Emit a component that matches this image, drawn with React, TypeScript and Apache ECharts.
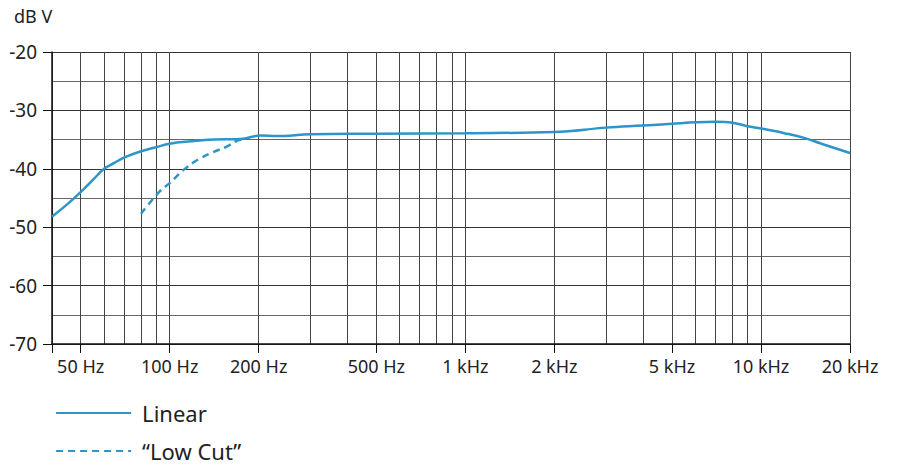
import React, { useEffect, useRef } from "react";
import * as echarts from "echarts";

const gridFreqs = [
  40, 50, 60, 70, 80, 90, 100, 200, 300, 400, 500, 600, 700, 800, 900, 1000,
  2000, 3000, 4000, 5000, 6000, 7000, 8000, 9000, 10000, 20000,
];
const tickFreqs = [40, 50, 100, 200, 500, 1000, 2000, 5000, 10000, 20000];
const labelFreqs = [50, 100, 200, 500, 1000, 2000, 5000, 10000, 20000];

const linearFreq = [
  40, 45, 50, 55, 60, 65, 70, 80, 90, 100, 118, 141, 174, 203, 230, 300, 500, 1000,
  2000, 3000, 4000, 5000, 6000, 7000, 8000, 9000, 10000, 12000, 14000, 16000, 20000,
];
const linearDb = [
  -48.2, -46.1, -44.0, -41.9, -40.0, -39.0, -38.1, -37.0, -36.3, -35.7, -35.3, -35.0,
  -34.9, -34.3, -34.4, -34.1, -34.0, -33.9, -33.7, -32.95, -32.6, -32.3, -32.05,
  -31.95, -32.1, -32.7, -33.1, -33.9, -34.7, -35.7, -37.3,
];

const lowCutFreq = [80, 92, 99.5, 112, 124, 141, 156, 169, 180];
const lowCutDb = [-47.7, -44.0, -42.55, -40.1, -38.5, -37.1, -36.2, -35.2, -34.9];

const LINE_COLOR = "#2d95c9";
const FONT = "'Noto Sans', 'Open Sans', sans-serif";

function fmtFreq(v: number): string {
  return v >= 1000 ? `${v / 1000} kHz` : `${v} Hz`;
}

export default function App() {
  const ref = useRef<HTMLDivElement>(null);
  useEffect(() => {
    if (!ref.current) return;
    const chart = echarts.init(ref.current, undefined, { renderer: "svg" });
    chart.setOption({
      animation: false,
      backgroundColor: "#ffffff",
      title: {
        text: "dB V",
        left: 14,
        top: 7,
        padding: 0,
        textStyle: { fontSize: 18, fontWeight: "normal", color: "#222", fontFamily: FONT },
      },
      legend: {
        orient: "vertical",
        left: 55,
        top: 401,
        padding: 0,
        itemWidth: 75,
        itemHeight: 14,
        itemGap: 14,
        itemStyle: { opacity: 0, borderWidth: 0 },
        lineStyle: { width: 2.2 },
        textStyle: {
          fontSize: 22,
          color: "#222",
          fontFamily: FONT,
          lineHeight: 24,
          padding: [0, 0, 0, 6],
        },
        data: ["Linear", "“Low Cut”"],
      },
      grid: { left: 52, right: 50, top: 52, bottom: 127, containLabel: false },
      xAxis: [
        {
          type: "log",
          logBase: 10,
          min: 40,
          max: 20000,
          position: "top",
          axisLine: { show: false },
          axisTick: { show: false, customValues: gridFreqs },
          axisLabel: { show: false },
          splitLine: { show: true, lineStyle: { color: "#444", width: 1 } },
        },
        {
          type: "log",
          logBase: 10,
          min: 40,
          max: 20000,
          position: "bottom",
          axisLine: { show: true, lineStyle: { color: "#111", width: 1.5 } },
          axisTick: {
            show: true,
            customValues: tickFreqs,
            length: 9,
            lineStyle: { color: "#111", width: 1 },
          },
          axisLabel: {
            show: true,
            customValues: labelFreqs,
            formatter: (v: number) => fmtFreq(v),
            fontSize: 18,
            color: "#222",
            fontFamily: FONT,
            margin: 13,
          },
          splitLine: { show: false },
        },
      ],
      yAxis: [
        {
          type: "value",
          min: -70,
          max: -20,
          interval: 5,
          axisLine: { show: false },
          axisTick: { show: false },
          axisLabel: { show: false },
          splitLine: { show: true, lineStyle: { color: ["#333", "#666"], width: 1 } },
        },
        {
          type: "value",
          min: -70,
          max: -20,
          interval: 10,
          position: "left",
          axisLine: { show: true, lineStyle: { color: "#111", width: 1.5 } },
          axisTick: { show: true, length: 9, lineStyle: { color: "#111", width: 1 } },
          axisLabel: {
            fontSize: 19,
            color: "#222",
            fontFamily: FONT,
            margin: 15,
          },
          splitLine: { show: false },
        },
      ],
      series: [
        {
          name: "Linear",
          type: "line",
          xAxisIndex: 1,
          yAxisIndex: 1,
          smooth: 0.4,
          symbol: "none",
          showSymbol: false,
          lineStyle: { color: LINE_COLOR, width: 2.5 },
          itemStyle: { color: LINE_COLOR },
          data: linearFreq.map((f, i) => [f, linearDb[i]]),
        },
        {
          name: "“Low Cut”",
          type: "line",
          xAxisIndex: 1,
          yAxisIndex: 1,
          smooth: 0.4,
          symbol: "none",
          showSymbol: false,
          lineStyle: { color: LINE_COLOR, width: 2.5, type: [7, 5] },
          itemStyle: { color: LINE_COLOR },
          data: lowCutFreq.map((f, i) => [f, lowCutDb[i]]),
        },
      ],
    });
    return () => chart.dispose();
  }, []);
  return (
    <div
      ref={ref}
      style={{ position: "absolute", left: 0, top: 0, width: 900, height: 471 }}
    />
  );
}
